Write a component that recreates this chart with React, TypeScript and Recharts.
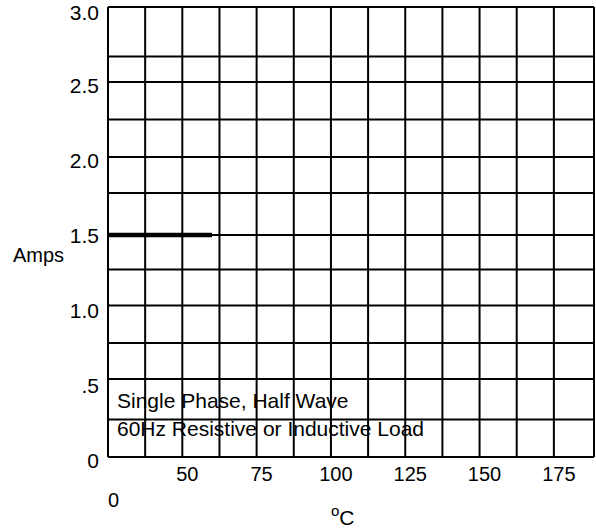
import { LineChart, Line, XAxis, YAxis, ReferenceLine } from 'recharts';

const tempC = [25, 60];
const amps = [1.48, 1.48];

const xTicks = [50, 75, 100, 125, 150, 175];
const yTicks = [0, 0.5, 1, 1.5, 2, 2.5, 3];
const yTickLabels = ['0', '.5', '1.0', '1.5', '2.0', '2.5', '3.0'];

// grid lines as they sit on the original sheet
const vGrid = [37.5, 50, 62.5, 75, 87.5, 100, 112.5, 125, 137.5, 150, 162.5, 175];
const hGrid = [0.25, 0.52, 0.76, 1.01, 1.25, 1.48, 1.76, 2.0, 2.25, 2.5, 2.67];

const notes = ['Single Phase, Half Wave', '60Hz Resistive or Inductive Load'];

const X_MIN = 25;
const X_MAX = 188.5;
const Y_MAX = 3;

const FONT = '"Liberation Sans", Arial, sans-serif';

const data = tempC.map((t, i) => ({ t, a: amps[i] }));

const XTick = (props: any) => {
  const { x, y, payload } = props;
  return (
    <text x={x + 5} y={y} dy={14} textAnchor="middle" fontSize={20} fill="#000" fontFamily={FONT}>
      {payload.value}
    </text>
  );
};

const YTick = (props: any) => {
  const { x, y, payload } = props;
  const idx = yTicks.indexOf(payload.value);
  return (
    <text x={x} y={y} dy={11} textAnchor="end" fontSize={21} fill="#000" fontFamily={FONT}>
      {yTickLabels[idx]}
    </text>
  );
};

export default function App() {
  return (
    <div style={{ position: 'absolute', left: 0, top: 0, width: 596, height: 528, background: '#fff' }}>
      <LineChart
        width={596}
        height={528}
        data={data}
        margin={{ top: 7, right: 2, bottom: 41, left: 8 }}
      >
        <XAxis
          type="number"
          dataKey="t"
          domain={[X_MIN, X_MAX]}
          ticks={xTicks}
          tick={XTick}
          tickLine={false}
          tickSize={0}
          tickMargin={10}
          height={30}
          axisLine={{ stroke: '#000', strokeWidth: 2 }}
        />
        <YAxis
          type="number"
          domain={[0, Y_MAX]}
          ticks={yTicks}
          tick={YTick}
          tickLine={false}
          tickSize={0}
          tickMargin={9}
          width={100}
          axisLine={{ stroke: '#000', strokeWidth: 2 }}
        />
        {vGrid.map((v) => (
          <ReferenceLine key={`v${v}`} x={v} stroke="#000" strokeWidth={2} />
        ))}
        {hGrid.map((h) => (
          <ReferenceLine key={`h${h}`} y={h} stroke="#000" strokeWidth={2} />
        ))}
        <ReferenceLine y={Y_MAX} stroke="#000" strokeWidth={2} />
        <ReferenceLine x={X_MAX} stroke="#000" strokeWidth={2} />
        <Line
          dataKey="a"
          stroke="#000"
          strokeWidth={4.5}
          dot={false}
          isAnimationActive={false}
        />
      </LineChart>
      <svg
        width={596}
        height={528}
        style={{ position: 'absolute', left: 0, top: 0, pointerEvents: 'none' }}
        fontFamily={FONT}
        fill="#000"
      >
        <text x={13} y={262} fontSize={20}>Amps</text>
        <text x={117} y={408} fontSize={21}>{notes[0]}</text>
        <text x={117} y={436} fontSize={21}>{notes[1]}</text>
        <text x={108} y={507} fontSize={20}>0</text>
        <text x={331} y={525}>
          <tspan fontSize={15} dy={-9}>o</tspan>
          <tspan fontSize={21} dy={9}>C</tspan>
        </text>
      </svg>
    </div>
  );
}
